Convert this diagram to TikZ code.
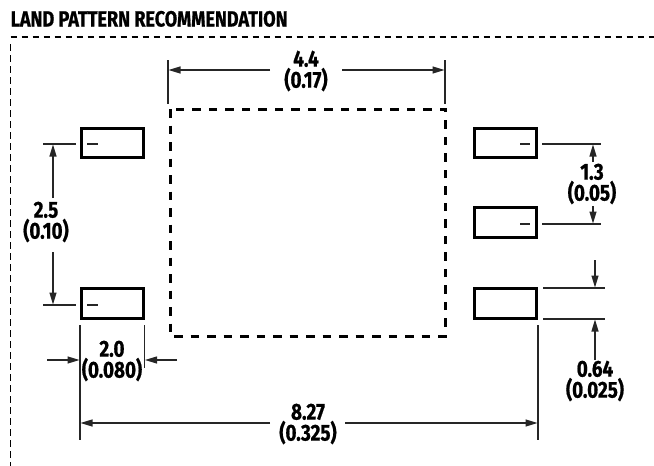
\documentclass[tikz,border=0pt]{standalone}
\usepackage{fontspec}
\setmainfont{Fira Sans}[FakeStretch=0.82,BoldFont={Fira Sans Bold},BoldFeatures={FakeBold=0.8}]
\usetikzlibrary{arrows.meta}
\tikzset{
  pad/.style={draw,line width=3pt,minimum width=62pt,minimum height=29.5pt,inner sep=0pt,outer sep=0pt},
  thin line/.style={line width=1.1pt,draw=black!85},
  dim/.style={thin line,-{Triangle[length=12pt,width=7pt]}},
  lbl/.style={font=\fontsize{23}{21}\selectfont\bfseries,align=center,inner sep=0pt},
  frame line/.style={line width=1.1pt,dash pattern=on 6.5pt off 4.5pt},
  body line/.style={line width=3pt,dash pattern=on 8.5pt off 8pt}
}
\begin{document}
\begin{tikzpicture}[x=1pt,y=-1pt]
\useasboundingbox (0,0) rectangle (654,466);
% frame
\coordinate (f0) at (10.5,37);
\coordinate (f1) at (654,37);
\coordinate (f2) at (10.5,466);
\draw[frame line] (f0) -- (f1);
\draw[frame line] (10.5,44) -- (f2);
\node[anchor=base west,inner sep=0pt,font=\fontsize{22}{24}\selectfont\bfseries] (title) at (10.5,26.5) {LAND PATTERN RECOMMENDATION};
% body
\coordinate (b0) at (170,109);
\coordinate (b1) at (445,336);
\draw[body line] (b0) rectangle (b1);
% pads
\node[pad] (la) at (112,143) {};
\node[pad] (lb) at (112,303.5) {};
\node[pad] (ra) at (505,143) {};
\node[pad] (rb) at (505,222.5) {};
\node[pad] (rc) at (505,303.5) {};
% centre marks
\foreach \n/\a/\b/\y in {m1/87/98/144,m2/87/98/305,m3/520/530/144,m4/520/530/224}{
  \coordinate (\n a) at (\a,\y); \coordinate (\n b) at (\b,\y);
  \draw[thin line] (\n a) -- (\n b);
}
% extension lines
\foreach \n/\a/\c/\b/\d in {e1/43/144/76/144,e2/43/305/76/305,e3/542/144/601/144,e4/542/224/601/224,
  e5/543/288/605/288,e6/543/319/605/319,e7/168/60/168/104,e8/445/60/445/104,
  e9/80/325/80/440,e10/144.5/325/144.5/368,e11/538/325/538/440}{
  \coordinate (\n a) at (\a,\c); \coordinate (\n b) at (\b,\d);
  \draw[thin line] (\n a) -- (\n b);
}
% labels
\node[lbl] (d44) at (306,71) {4.4\\(0.17)};
\node[lbl] (d25) at (46,222) {2.5\\(0.10)};
\node[lbl] (d20) at (112,361) {2.0\\(0.080)};
\node[lbl] (d827) at (308,424) {8.27\\(0.325)};
\node[lbl] (d13) at (592,184) {1.3\\(0.05)};
\node[lbl] (d064) at (595,381) {0.64\\(0.025)};
% dimension arrows
\coordinate (a1) at (270,70); \coordinate (a1t) at (168.5,70);
\coordinate (a2) at (342,70); \coordinate (a2t) at (444.5,70);
\draw[dim] (a1) -- (a1t);
\draw[dim] (a2) -- (a2t);
\coordinate (a3) at (53,198); \coordinate (a3t) at (53,144.5);
\coordinate (a4) at (53,252); \coordinate (a4t) at (53,304.5);
\draw[dim] (a3) -- (a3t);
\draw[dim] (a4) -- (a4t);
\coordinate (a5) at (47,360); \coordinate (a5t) at (79.5,360);
\coordinate (a6) at (177,360); \coordinate (a6t) at (145,360);
\draw[dim] (a5) -- (a5t);
\draw[dim] (a6) -- (a6t);
\coordinate (a7) at (270,423); \coordinate (a7t) at (80.5,423);
\coordinate (a8) at (345,423); \coordinate (a8t) at (537.5,423);
\draw[dim] (a7) -- (a7t);
\draw[dim] (a8) -- (a8t);
\coordinate (a9) at (593,162); \coordinate (a9t) at (593,144.5);
\coordinate (a10) at (593,206); \coordinate (a10t) at (593,223.5);
\draw[dim] (a9) -- (a9t);
\draw[dim] (a10) -- (a10t);
\coordinate (a11) at (595,260); \coordinate (a11t) at (595,287.5);
\coordinate (a12) at (595,360); \coordinate (a12t) at (595,319.5);
\draw[dim] (a11) -- (a11t);
\draw[dim] (a12) -- (a12t);
\end{tikzpicture}
\end{document}
